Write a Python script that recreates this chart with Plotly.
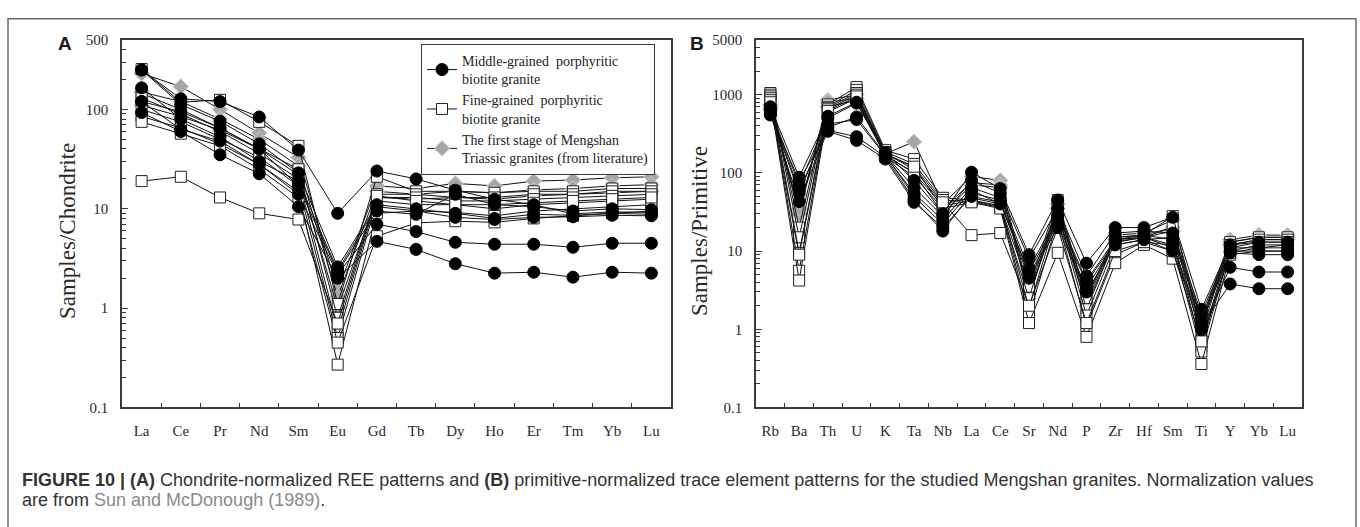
import plotly.graph_objects as go

W, H = 1360, 527

# ---- Chondrite-normalized REE (panel A) ----
ree = ["La", "Ce", "Pr", "Nd", "Sm", "Eu", "Gd", "Tb", "Dy", "Ho", "Er", "Tm", "Yb", "Lu"]

ree_middle = [
    [250, 128, 120, 84, 39, 9.0, 24, 20, 15.4, 12.5, 11, 8.9, 9.3, 9.2],
    [250, 112, 76, 45, 23, 2.6, 11, 10, 9.0, 8.0, 8.8, 8.6, 9.0, 8.8],
    [165, 80, 53, 30, 19, 2.4, 10.5, 9.5, 8.2, 7.8, 8.2, 8.3, 8.6, 8.5],
    [120, 63, 48, 28, 14, 2.2, 7.0, 5.9, 4.6, 4.4, 4.4, 4.1, 4.5, 4.5],
    [93, 60, 35, 22.5, 10.5, 2.0, 4.7, 3.9, 2.8, 2.25, 2.3, 2.05, 2.3, 2.25],
    [120, 95, 65, 40, 17, 2.3, 9.5, 8.8, 14.0, 11.0, 10.5, 9.5, 10, 9.8],
]
ree_fine = [
    [255, 118, 125, 75, 43, 1.1, 21, 15, 15, 14.5, 15, 15, 16, 16],
    [145, 100, 65, 40, 25, 0.8, 14, 14, 13, 13, 14, 14, 15, 15],
    [130, 90, 60, 36, 20, 0.6, 13, 13, 12, 12, 12.5, 13, 13.5, 14],
    [100, 75, 50, 33, 17, 0.5, 12, 11, 11, 10, 11, 11.5, 12, 12.5],
    [85, 65, 45, 28, 15, 0.27, 9, 9.5, 9.2, 8.5, 9.5, 10, 10.5, 11],
    [75, 57, 43, 25, 13, 0.45, 5.3, 7.2, 7.5, 7.3, 8, 8.5, 9, 9.5],
    [19, 21, 13, 9, 7.8, 0.7, 13.5, 12, 11, 11, 11.5, 12, 12.5, 13],
]
ree_literature = [
    [230, 170, 100, 58, 33, 1.5, 17, 16, 18, 17, 19, 19.5, 20.5, 21],
    [150, 120, 80, 50, 27, 1.3, 15, 14, 15, 14.5, 15.5, 16, 17, 17.5],
    [110, 85, 62, 40, 22, 1.0, 13, 12.5, 13, 12.5, 13.5, 14, 14.5, 15],
]

# ---- Primitive-mantle-normalized trace elements (panel B) ----
trace = ["Rb", "Ba", "Th", "U", "K", "Ta", "Nb", "La", "Ce", "Sr",
         "Nd", "P", "Zr", "Hf", "Sm", "Ti", "Y", "Yb", "Lu"]

trace_middle = [
    [700, 88, 530, 800, 180, 80, 30, 102, 63, 9.0, 45, 7.0, 20, 20, 27, 1.8, 12, 13, 13],
    [650, 70, 500, 780, 170, 65, 28, 80, 55, 8.0, 35, 4.8, 17, 18, 17, 1.6, 11, 11, 12],
    [600, 55, 420, 480, 165, 55, 25, 65, 48, 6.0, 28, 4.2, 14, 16, 14, 1.4, 10, 10, 10],
    [560, 43, 350, 290, 160, 45, 18, 55, 45, 5.0, 22, 3.4, 13, 15, 12, 1.2, 9.5, 9, 9],
    [550, 80, 340, 260, 150, 42, 20, 50, 42, 4.5, 20, 3.0, 12, 14, 10, 1.0, 6.2, 5.4, 5.4],
    [620, 60, 380, 520, 170, 50, 22, 60, 40, 5.5, 25, 4.0, 13, 15, 11, 1.1, 3.8, 3.3, 3.3],
]
trace_fine = [
    [1050, 20, 750, 1250, 195, 150, 48, 45, 38, 3.5, 45, 2.5, 15, 16, 28, 0.9, 13, 15, 15],
    [1000, 15, 700, 1150, 185, 130, 45, 43, 36, 2.5, 40, 1.8, 14, 15, 20, 0.7, 12, 14, 14],
    [950, 9.5, 680, 1050, 180, 110, 40, 48, 40, 1.9, 30, 1.5, 12, 14, 15, 0.6, 11, 13, 13],
    [900, 5.6, 650, 1000, 170, 100, 38, 44, 37, 1.5, 25, 1.1, 9, 13, 12, 0.52, 10, 12, 12],
    [850, 4.2, 600, 900, 160, 90, 35, 42, 35, 1.2, 9.5, 0.8, 7.0, 12, 8, 0.36, 9, 10, 10],
    [800, 9, 620, 950, 175, 120, 42, 16, 17, 2.0, 20, 1.2, 10, 13, 10, 0.7, 9.5, 11, 11],
]
trace_literature = [
    [750, 32, 850, 1000, 175, 250, 40, 90, 80, 3.0, 40, 2.5, 16, 17, 25, 1.3, 14, 16, 16],
    [700, 30, 800, 900, 170, 120, 35, 75, 70, 2.5, 35, 2.2, 15, 16, 20, 1.2, 13, 15, 15],
    [650, 35, 700, 850, 165, 100, 30, 70, 65, 2.8, 30, 2.0, 14, 15, 18, 1.1, 12, 14, 14],
]

group_names = [
    "Middle-grained  porphyritic<br>biotite granite",
    "Fine-grained  porphyritic<br>biotite granite",
    "The first stage of Mengshan<br>Triassic granites (from literature)",
]
group_markers = [
    dict(symbol="circle", size=12, color="#000000", line=dict(color="#000000", width=1)),
    dict(symbol="square", size=11, color="#ffffff", line=dict(color="#222222", width=1)),
    dict(symbol="diamond", size=12, color="#a6a6a6", line=dict(color="#cfcfcf", width=1)),
]

SERIF = "Liberation Serif, Times New Roman, serif"
SANS = "Liberation Sans, Arial, sans-serif"


def px(x):
    return x / W


def py(y):
    return 1 - y / H


fig = go.Figure()

# draw literature first, then fine, then middle so filled circles sit on top
for gi in (2, 1, 0):
    for axes, cats, groups in (
        (("x", "y"), ree, (ree_middle, ree_fine, ree_literature)),
        (("x2", "y2"), trace, (trace_middle, trace_fine, trace_literature)),
    ):
        for si, vals in enumerate(groups[gi]):
            fig.add_trace(go.Scatter(
                x=cats, y=vals, xaxis=axes[0], yaxis=axes[1],
                mode="lines+markers",
                line=dict(color="#111111", width=1),
                marker=group_markers[gi],
                name=group_names[gi],
                legendgroup=f"g{gi}",
                legendrank=gi + 1,
                showlegend=(axes[0] == "x" and si == 0),
                hoverinfo="x+y",
            ))


def minor_vals(lo_exp, hi_exp, top):
    vals = []
    for e in range(lo_exp, hi_exp + 1):
        for m in range(2, 10):
            v = m * 10 ** e
            if v < top:
                vals.append(v)
    return vals


axis_line = dict(showline=True, linecolor="#3a3a3a", linewidth=1.6, mirror=True,
                 showgrid=False, zeroline=False)

xa_common = dict(type="category", ticks="inside", ticklen=5, tickwidth=1.2,
                 tickcolor="#3a3a3a", tickson="boundaries", tickangle=0,
                 tickfont=dict(family=SERIF, size=15, color="#2a2a2a"),
                 ticklabelstandoff=9, **axis_line)

ya_common = dict(type="log", ticks="inside", ticklen=6, tickwidth=1.2, tickcolor="#3a3a3a",
                 tickfont=dict(family=SERIF, size=15, color="#2a2a2a"),
                 ticklabelstandoff=9, **axis_line)

fig.update_layout(
    width=W, height=H,
    margin=dict(l=0, r=0, t=0, b=0),
    paper_bgcolor="white", plot_bgcolor="white",
    xaxis=dict(domain=[px(122), px(671)], anchor="y", range=[-0.5, 13.5], **xa_common),
    yaxis=dict(domain=[py(412), py(33)], anchor="x", range=[-1, 2.69897],
               tickmode="array", tickvals=[0.1, 1, 10, 100, 500],
               ticktext=["0.1", "1", "10", "100", "500"],
               minor=dict(tickmode="array", tickvals=minor_vals(-1, 2, 500),
                          ticks="inside", ticklen=4, tickwidth=1, tickcolor="#3a3a3a"),
               **ya_common),
    xaxis2=dict(domain=[px(756), px(1302)], anchor="y2", range=[-0.5, 18.5], **xa_common),
    yaxis2=dict(domain=[py(412), py(33)], anchor="x2", range=[-1, 3.69897],
                tickmode="array", tickvals=[0.1, 1, 10, 100, 1000, 5000],
                ticktext=["0.1", "1", "10", "100", "1000", "5000"],
                minor=dict(tickmode="array", tickvals=minor_vals(-1, 3, 5000),
                           ticks="inside", ticklen=4, tickwidth=1, tickcolor="#3a3a3a"),
                **ya_common),
    showlegend=True,
    legend=dict(
        x=px(421), y=py(37), xanchor="left", yanchor="top",
        bgcolor="white", bordercolor="#3a3a3a", borderwidth=1,
        font=dict(family=SERIF, size=14, color="#222222"),
        tracegroupgap=0, itemwidth=30,
    ),
)

# outer frame around the whole figure panel
fig.add_shape(type="rect", xref="paper", yref="paper",
              x0=px(8), x1=px(1356), y0=py(540), y1=py(11),
              line=dict(color="#6a6a6a", width=1.5), fillcolor="rgba(0,0,0,0)", layer="below")

annotations = [
    dict(text="<b>A</b>", x=px(65), y=py(37), font=dict(family=SANS, size=19, color="#1a1a1a")),
    dict(text="<b>B</b>", x=px(697), y=py(37), font=dict(family=SANS, size=19, color="#1a1a1a")),
    dict(text="Samples/Chondrite", x=px(67), y=py(230), textangle=-90,
         font=dict(family=SERIF, size=23, color="#2a2a2a")),
    dict(text="Samples/Primitive", x=px(699), y=py(230), textangle=-90,
         font=dict(family=SERIF, size=23, color="#2a2a2a")),
]
for a in annotations:
    fig.add_annotation(xref="paper", yref="paper", showarrow=False,
                       xanchor="center", yanchor="middle", **a)

CAP = "Liberation Sans, Arial, sans-serif"
fig.add_annotation(
    xref="paper", yref="paper", x=px(20), y=py(487), xanchor="left", yanchor="middle",
    showarrow=False, align="left",
    text=("<b>FIGURE 10 | (A)</b> Chondrite-normalized REE patterns and <b>(B)</b> "
          "primitive-normalized trace element patterns for the studied Mengshan granites. "
          "Normalization values"),
    font=dict(family=CAP, size=18, color="#333333"),
)
fig.add_annotation(
    xref="paper", yref="paper", x=px(20), y=py(507), xanchor="left", yanchor="middle",
    showarrow=False, align="left",
    text='are from <span style="color:#8a8a8a">Sun and McDonough (1989)</span>.',
    font=dict(family=CAP, size=18, color="#333333"),
)

fig.write_html("out.html")
